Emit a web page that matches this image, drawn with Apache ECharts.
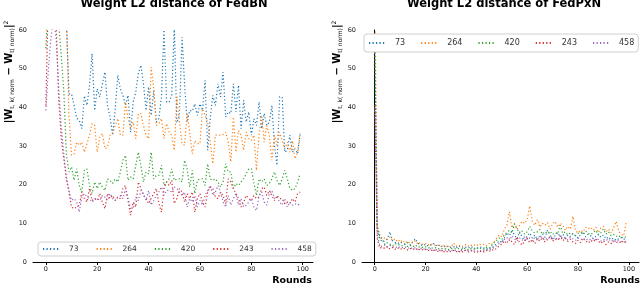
<!DOCTYPE html>
<html><head><meta charset="utf-8">
<script src="https://cdn.jsdelivr.net/npm/echarts@6/dist/echarts.min.js"></script>
<style>html,body{margin:0;padding:0;background:#fff}#c{width:640px;height:286px}</style>
</head><body><div id="c"></div>
<script>
const rounds = Array.from({length:100},(_,i)=>i);
const seriesNames = ['73','264','420','243','458'];
const colors = ['#1f77b4','#ff7f0e','#2ca02c','#d62728','#9467bd'];
const xTicks = [0,20,40,60,80,100];
const titles = ['Weight L2 distance of FedBN','Weight L2 distance of FedPxN'];

// FedBN (left)
const bn73 = [90,88,85,80,78,75,72,68,62,43.5,43.5,40.5,37.2,36.6,34.5,43,40.5,45.7,53.9,39.2,44.8,42.7,46,49.1,40.5,37.5,32.8,39.6,48.3,44.8,43.1,40.5,43.1,33.6,41.4,44,48.7,50.9,46.1,39.2,45.3,37.9,44.4,36.2,37.1,42.7,60.5,41.4,41.4,43.1,61,36,38,58.2,46.1,36.2,39.2,39,40.9,37.9,40.9,39.2,47,28.9,37.1,43.1,40.5,46.1,42.7,49.1,37.5,38.8,38.4,46.1,38.8,45.7,34.5,41.8,36.2,38.8,32.8,37.1,35.3,41.4,34.5,38.4,35.3,36.2,40.5,30.2,25,42.7,42.7,28.4,28.9,32.8,28.4,29.3,28,33.2];
const bn264 = [85,82,80,78,76,74,72,70,66,38,27.6,28,31,30.2,31,28.4,30.6,32.8,35.8,35.3,28.4,32.3,33.2,29.3,29.7,32.8,33.2,35.3,37.1,32.8,32.8,41.4,37.1,34.5,36.2,31.9,38.4,38.4,35.3,32.8,31.9,50.4,44.8,35.3,35.8,37.1,31.9,35.8,33.6,32.8,28.9,42.7,36.2,30.6,30.2,38.4,33.6,28,31.4,30.6,30.6,39.6,37.9,36.2,31,25.4,32.8,32.8,32.8,33,33.6,31,25.9,37.5,28.4,34,32.8,28.9,33.6,31.9,31.4,32.8,23.7,32.8,37.9,31,35.3,32.8,26.3,32.8,30.2,33.6,31.4,29.3,31,28.4,31.4,26.7,28.4,33.2];
const bn420 = [55.3,68,66,64,63,62,53.4,44,28,23.3,24.6,21.1,24.1,19.8,18.1,23.7,24.1,19.8,17.7,20.7,19,20.7,19.4,18.5,21.5,21.1,20.3,21.5,20.7,23.3,26.3,27.6,21.1,22,21.5,25,28.4,25,20.7,23.3,22.8,28.4,21.5,22.4,22.4,25,19.8,20.7,21.5,24.1,21.1,21.5,21.5,20.7,26.3,24.1,19.4,23.7,17.7,21.1,21.5,21.5,19.8,25.4,21.5,21.1,21.5,20.7,19.4,20.7,25.4,23.3,23.3,19,20.3,19.8,20.7,21.5,22.8,24.1,24.1,20.3,17.2,21.5,20.7,21.5,19.8,20.3,21.5,23.3,21.1,19.8,21.5,23.7,21.5,19,18.5,19,20.7,22.8];
const bn243 = [40.5,70,68,66,62,42,31.9,26.7,21.5,18.1,14.2,13.8,14.2,14.7,18.1,16.4,15.5,19,15.9,16.4,15.9,17.7,15.5,13.8,17.7,16.4,17.2,15.9,16.8,16.4,19,19.8,15.9,12.1,15.5,14.2,20.7,19,17.2,16.4,15.1,16.4,17.7,19,15.1,12.9,19,20.7,19.8,21.1,15.1,16.4,19,18.1,15.5,17.7,16.4,18.1,12.9,16.4,17.7,15.5,14.2,18.1,19.4,19,16.8,16.4,18.1,17.2,15.1,21.5,20.7,19,17.7,16.4,14.2,15.5,17.2,16.4,15.9,17.2,16.4,16.8,19,19.4,17.2,18.5,17.2,15.9,17.2,16.4,16.4,15.1,15.5,15.1,16.4,15.5,17.7,18.1];
const bn458 = [39.2,50,58,63,58,45,35,28,22,18.5,15.9,16.4,15.5,12.9,16.8,17.7,16.8,16.4,15.5,16.4,16.4,15.9,17.2,16.8,15.9,17.7,16.4,15.9,16.8,17.2,16.4,19,16.4,13.8,14.2,16.8,15.9,18.5,17.7,15.9,18.5,14.7,15.9,17.2,18.1,19.4,17.2,18.5,18.5,18.1,19.4,19,18.1,17.2,18.1,14.2,16.4,15.5,17.2,14.2,15.9,14.7,17.2,18.5,19.8,17.2,18.1,19.8,18.1,15.5,14.2,17.2,14.7,16.4,17.7,14.7,16.4,14.2,14.7,15.5,16.4,14.2,13.3,17.2,18.1,15.5,14.7,17.7,18.5,16.4,16.8,15.5,14.7,16.4,14.2,15.5,14.7,15.1,14.7,15.1];

// FedPxN (right)
const px73 = [58,8.5,6,5.2,5.5,6,7.8,5.5,5,4.7,5.2,4.8,4.6,5,4.4,5.3,6,4.8,4.5,4.2,4.6,4.1,4.4,4.8,4.2,4.5,3.9,4.3,3.8,4.1,3.7,4,3.6,4.2,3.8,3.5,3.9,3.7,4,3.4,3.8,3.5,3.9,3.6,3.3,3.7,3.5,4.2,4.8,5.5,5,6.2,7.5,6.8,8,7,6,7.8,6.5,5.5,6.8,7.5,6.2,7,5.8,6.6,7.2,6.4,8.2,7,6,6.8,7.6,6.5,7.2,6.2,7,6.6,7.4,6.8,6.2,7,7.8,6.5,7.2,6.8,6,6.6,7.2,6.4,7,6,6.5,5.8,6.2,5.6,6,6.3,5.9,6.2];
const px264 = [75,9,7,6,6.2,5.8,6.5,5.5,6,5.2,5.8,5,5.5,4.8,5.2,4.9,5.5,4.6,5,4.5,4.8,4.4,4.7,4.2,4.5,4.3,4,4.4,3.9,4.2,3.8,4.9,4.1,4.4,3.9,4.2,4.6,4,4.3,4.5,4.1,4.7,4.4,4.6,4.2,4.8,4.5,5.3,6.2,7,6.5,8.5,9.5,13,8.8,10,8.5,9.5,10.5,10,11,14.5,10.5,9.5,11,9,10,9.5,10.2,8.5,9.8,10.5,9,10,9.6,8.2,9.2,8.5,11.8,8,7.5,8.2,7.8,9,8.6,9,8.2,9,7.6,8.8,9.2,7.8,8.5,7.5,8.8,10.5,8,7.2,6.8,10.5];
const px420 = [55,9.5,6.5,5.8,4.5,5,4.6,4.2,4.8,4.4,4.5,4.1,4.6,4,4.3,3.9,4.4,3.8,4,3.7,3.9,3.6,3.8,3.5,3.7,3.4,3.6,3.3,3.5,3.2,3.4,3.6,3.3,3.5,3.2,3.6,3.4,3.1,3.5,3.3,3.7,3.4,3.6,3.3,3.8,3.5,4.3,5,5.6,6.2,5.8,7,7.6,8.2,7.5,9.8,8.6,7.4,8,7.2,7.8,9.2,8,7.5,7.8,8.4,7.2,7.9,7.4,8,7.1,7.6,7.3,9.5,7.4,7.8,7,7.5,7.2,6.8,7.4,7.7,7.2,8,7.4,7.1,7.6,8.2,7,7.6,8.5,7.2,7.8,6.8,7.1,6.6,6.9,6.2,6.6,6.4];
const px243 = [40.5,6,3.6,3.8,3.5,4,3.4,3.8,3.3,3.7,3.2,3.6,3.4,3.1,3.5,3.2,3.6,3,3.4,3.1,3.3,2.9,3.2,2.8,3.1,2.7,3,2.6,2.9,2.5,2.8,3,2.6,2.9,2.4,2.8,3.1,2.6,2.9,2.5,2.8,2.4,2.9,2.6,3,2.7,3.2,3,3.6,4.2,4.6,5.5,4.8,6,5.2,4.5,6.5,5,4.4,5.5,6.2,5,5.8,4.8,6,5.4,6.4,5.2,5.8,6.6,5.4,6,5.6,6.8,5.5,6.2,5.3,5.9,5.2,4.8,5.6,5,6.2,5.4,4.9,5.6,5.2,6,5.4,4.8,5.5,4.5,5.2,4.8,5.4,5,5.3,4.9,5.5,5.1];
const px458 = [40,7,4.2,4,4.4,3.9,4.3,3.8,4.1,3.6,4,3.7,3.9,3.5,3.8,3.4,3.7,3.3,3.6,3.2,3.5,3.1,3.4,3,3.3,2.9,3.2,2.8,3.1,2.9,3.2,2.8,3.1,2.7,3,2.8,3.2,2.9,3.1,2.8,3,2.7,3.1,2.9,3.2,3,3.4,3.8,4.3,4.8,5.2,5.8,6.3,5.5,6.8,6,5.4,6.2,5.6,6.5,5.8,6.2,5.5,6.4,5.9,6.8,6.1,5.6,6.4,6,6.6,5.8,6.3,5.9,6.6,6.1,5.7,6.4,6,5.6,6.2,5.8,6.1,5.5,6,5.7,6.3,5.6,5.9,5.4,5.8,5.5,6,5.3,5.7,5.2,5.6,5.3,5.1,5.2];

const leftData = [bn73,bn264,bn420,bn243,bn458];
const rightData = [px73,px264,px420,px243,px458];

const FONT = 'DejaVu Sans';
const chart = echarts.init(document.getElementById('c'), null, {renderer:'canvas'});

function xAxis(gi){
  return {
    type:'value', gridIndex:gi, min:-5, max:104,
    axisLine:{show:true,lineStyle:{color:'#000',width:1}},
    axisTick:{show:true,length:3,customValues:xTicks,lineStyle:{color:'#000'}},
    axisLabel:{customValues:xTicks,fontSize:6.5,color:'#222',fontFamily:FONT,margin:4},
    splitLine:{show:false}
  };
}
function yAxis(gi, showLine){
  return {
    type:'value', gridIndex:gi, min:0, max:60, interval:10,
    axisLine:{show:showLine,lineStyle:{color:'#000',width:1}},
    axisTick:{show:false},
    axisLabel:{fontSize:6.5,color:'#222',fontFamily:FONT,margin:6},
    splitLine:{show:false}
  };
}
function mkSeries(arrs, gi){
  return arrs.map((arr,k)=>({
    name:seriesNames[k], type:'line', xAxisIndex:gi, yAxisIndex:gi,
    data:arr.map((v,i)=>[rounds[i],v]),
    symbol:'none', clip:true, animation:false,
    lineStyle:{color:colors[k],width:1.2,type:[1.2,2.3]},
    itemStyle:{color:colors[k]}
  }));
}
const ylabelRich = {
  b:{fontSize:10,fontWeight:'bold',fontFamily:FONT,color:'#000'},
  s:{fontSize:6,fontFamily:FONT,color:'#000',verticalAlign:'bottom',padding:[6,0,0,0]},
  p:{fontSize:6,fontFamily:FONT,color:'#000',verticalAlign:'top',padding:[0,0,6,0]}
};
function yLabel(x,y){
  return {type:'text', x:x, y:y, rotation:Math.PI/2,
    style:{text:'{b||W}{s|t, k( norm}{b| \u2212 W}{s|t( norm)}{b||}{p|2}', rich:ylabelRich, align:'center', verticalAlign:'middle'}};
}
function roundsLabel(x){
  return {type:'text', x:x, y:281, style:{text:'Rounds', fontSize:9.5, fontWeight:'bold', fontFamily:FONT, fill:'#000', align:'right', verticalAlign:'middle'}};
}
function legend(left, top, fs, gap, pad){
  return {data:seriesNames, left:left, top:top, width:320, orient:'horizontal', itemWidth:17, itemHeight:6, itemGap:gap,
    padding:pad, borderColor:'#d0d0d0', borderWidth:1, borderRadius:3, backgroundColor:'#fff',
    itemStyle:{opacity:0},
    textStyle:{fontSize:fs,fontFamily:FONT,color:'#333',width:21,padding:[0,0,0,4]},
    selectedMode:false};
}

const option = {
  animation:false,
  backgroundColor:'#fff',
  title:[
    {text:titles[0], left:169, top:-7, textAlign:'center', textStyle:{fontSize:11.5,fontWeight:'bold',fontFamily:FONT,color:'#000'}},
    {text:titles[1], left:499, top:-7, textAlign:'center', textStyle:{fontSize:11.5,fontWeight:'bold',fontFamily:FONT,color:'#000'}}
  ],
  grid:[
    {left:33, top:30, width:280, height:232},
    {left:362, top:30, width:277, height:232}
  ],
  xAxis:[xAxis(0), xAxis(1)],
  yAxis:[yAxis(0,false), yAxis(1,true)],
  legend:[legend(38,242,7.5,17,[3,4]), legend(364,34,8,15,[5,4])],
  graphic:[yLabel(9,72), yLabel(337,72), roundsLabel(312), roundsLabel(640)],
  series:[...mkSeries(leftData,0), ...mkSeries(rightData,1)]
};
chart.setOption(option);
</script>
</body></html>
